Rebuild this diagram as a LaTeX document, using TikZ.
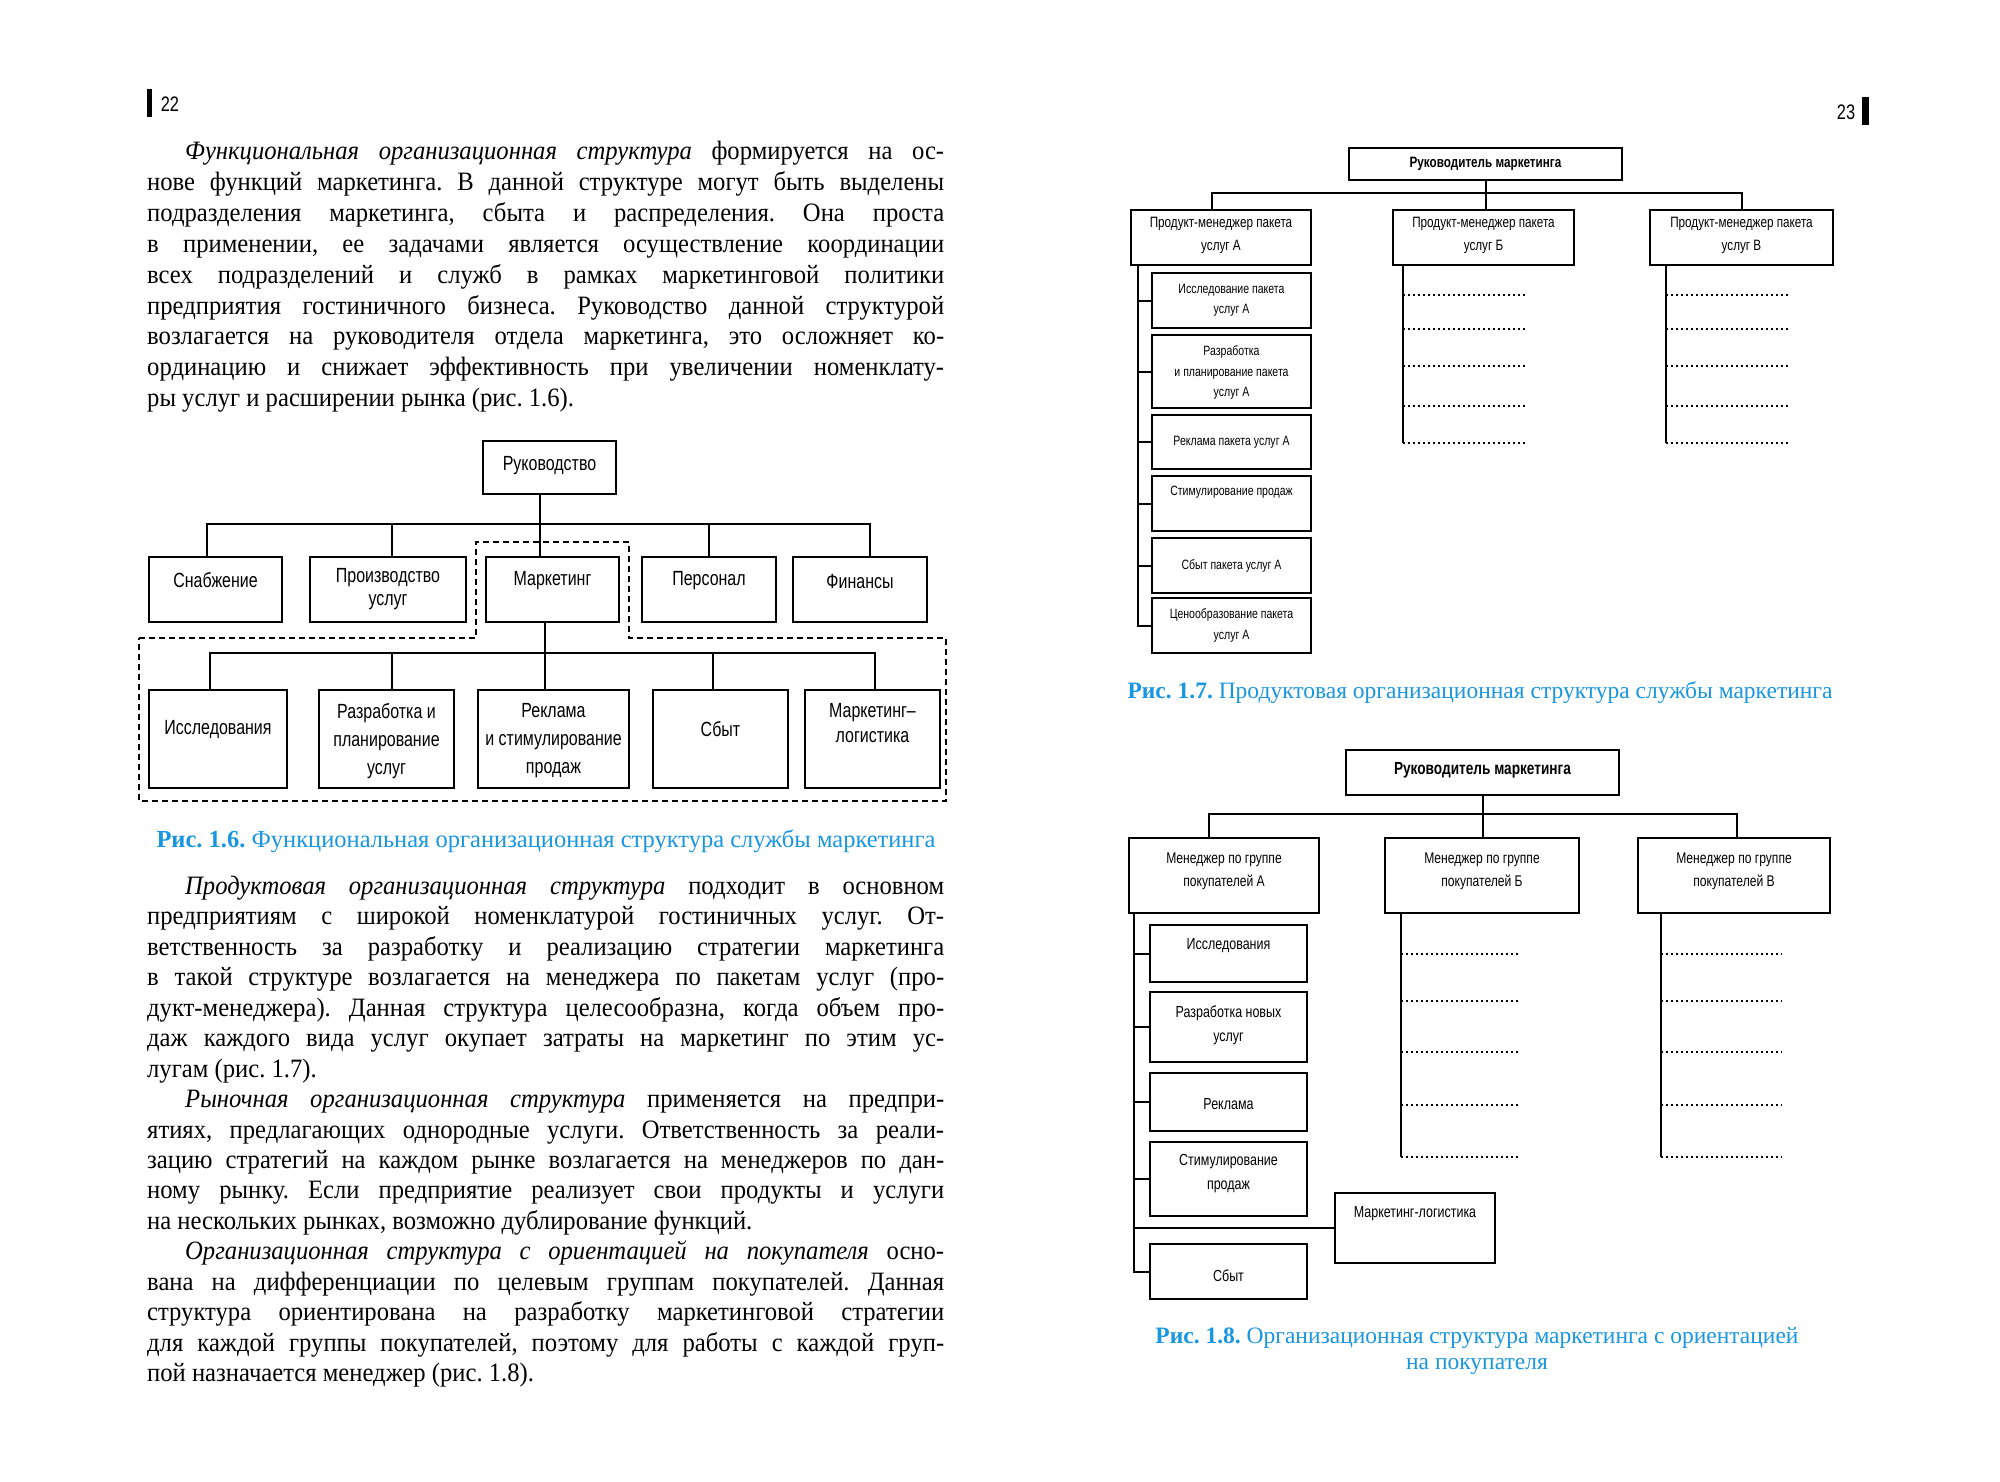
\documentclass[tikz,border=0pt]{standalone}
\usepackage{fontspec}
\setmainfont{Liberation Serif}[FakeStretch=0.93]
\newfontfamily\capfamily{Liberation Serif}
\newfontfamily\dfont{Liberation Sans}[FakeStretch=0.78]
\usetikzlibrary{calc}
\definecolor{capblue}{RGB}{25,150,225}
\frenchspacing
\newcommand\bodyfont{\fontsize{26.5}{30}\selectfont}
\newcommand\justln[3]{\node[txtline] (#1) at (147,#2) {\makebox[797pt][s]{#3}};}
\newcommand\lastln[3]{\node[txtline] (#1) at (147,#2) {#3};}
\newcommand\orgbox[9]{%
  \node[#2, minimum width={#6-#4}, minimum height={#7-#5}] (#1) at ({(#4+#6)/2},{(#5+#7)/2}) {};
  \node[#3] (#1t) at ($(#1.center)+(0,#8)$) {#9};}
\tikzset{
  txtline/.style={anchor=base west, inner sep=0, font=\bodyfont},
  b16/.style={draw, line width=2.6pt, inner sep=0},
  b17/.style={draw, line width=2pt, inner sep=0},
  b18/.style={draw, line width=2pt, inner sep=0},
  l16/.style={align=center, inner sep=0, font=\dfont\fontsize{20.5}{23}\selectfont},
  l17t/.style={align=center, inner sep=0, font=\dfont\bfseries\fontsize{15}{20}\selectfont},
  l17m/.style={align=center, inner sep=0, font=\dfont\fontsize{15}{23}\selectfont},
  l17s/.style={align=center, inner sep=0, font=\dfont\fontsize{13.5}{20.5}\selectfont},
  l18t/.style={align=center, inner sep=0, font=\dfont\bfseries\fontsize{17.5}{22}\selectfont},
  l18m/.style={align=center, inner sep=0, font=\dfont\fontsize{15.5}{23}\selectfont},
  l18s/.style={align=center, inner sep=0, font=\dfont\fontsize{16}{24}\selectfont},
  c16/.style={line width=2.4pt},
  c17/.style={line width=2pt},
  dash16/.style={line width=2pt, dash pattern=on 6pt off 4pt},
  dotl/.style={line width=2pt, dash pattern=on 2pt off 3pt},
  capt/.style={inner sep=0, align=center, text=capblue, font=\capfamily\fontsize{23.5}{26}\selectfont},
  pgnum/.style={inner sep=0, font=\dfont\fontsize{21}{24}\selectfont},
}
\begin{document}
\begin{tikzpicture}[x=1pt,y=-1pt]
\fill[white] (0,0) rectangle (2000,1482);
\useasboundingbox (0,0) rectangle (2000,1482);

% page numbers
\node[pgnum] (pn22) at (170,104) {22};
\fill (147,89) rectangle (152,117);
\node[pgnum] (pn23) at (1846,112) {23};
\fill (1862,97) rectangle (1869,125);

% paragraph 1
\justln{a1}{160}{\hspace*{38pt}\textit{Функциональная организационная структура} формируется на ос-}
\justln{a2}{190.8}{нове функций маркетинга. В данной структуре могут быть выделены}
\justln{a3}{221.6}{подразделения маркетинга, сбыта и распределения. Она проста}
\justln{a4}{252.4}{в применении, ее задачами является осуществление координации}
\justln{a5}{283.2}{всех подразделений и служб в рамках маркетинговой политики}
\justln{a6}{314}{предприятия гостиничного бизнеса. Руководство данной структурой}
\justln{a7}{344.8}{возлагается на руководителя отдела маркетинга, это осложняет ко-}
\justln{a8}{375.6}{ординацию и снижает эффективность при увеличении номенклату-}
\lastln{a9}{406.4}{ры услуг и расширении рынка (рис. 1.6).}

% paragraphs 2-4
\justln{b1}{894.4}{\hspace*{38pt}\textit{Продуктовая организационная структура} подходит в основном}
\justln{b2}{924.9}{предприятиям с широкой номенклатурой гостиничных услуг. От-}
\justln{b3}{955.3}{ветственность за разработку и реализацию стратегии маркетинга}
\justln{b4}{985.8}{в такой структуре возлагается на менеджера по пакетам услуг (про-}
\justln{b5}{1016.2}{дукт-менеджера). Данная структура целесообразна, когда объем про-}
\justln{b6}{1046.7}{даж каждого вида услуг окупает затраты на маркетинг по этим ус-}
\lastln{b7}{1077.1}{лугам (рис. 1.7).}
\justln{c1}{1107.6}{\hspace*{38pt}\textit{Рыночная организационная структура} применяется на предпри-}
\justln{c2}{1138.0}{ятиях, предлагающих однородные услуги. Ответственность за реали-}
\justln{c3}{1168.5}{зацию стратегий на каждом рынке возлагается на менеджеров по дан-}
\justln{c4}{1198.9}{ному рынку. Если предприятие реализует свои продукты и услуги}
\lastln{c5}{1229.4}{на нескольких рынках, возможно дублирование функций.}
\justln{d1}{1259.8}{\hspace*{38pt}\textit{Организационная структура с ориентацией на покупателя} осно-}
\justln{d2}{1290.3}{вана на дифференциации по целевым группам покупателей. Данная}
\justln{d3}{1320.7}{структура ориентирована на разработку маркетинговой стратегии}
\justln{d4}{1351.2}{для каждой группы покупателей, поэтому для работы с каждой груп-}
\lastln{d5}{1381.6}{пой назначается менеджер (рис. 1.8).}

% ---------------- Fig 1.6
\orgbox{root}{b16}{l16}{483}{441}{616}{494}{-2}{Руководство}
\orgbox{snab}{b16}{l16}{149}{557}{282}{622}{-9}{Снабжение}
\orgbox{prod}{b16}{l16}{310}{557}{466}{622}{0}{Производство\\услуг}
\orgbox{mark}{b16}{l16}{486}{557}{619}{622}{-9}{Маркетинг}
\orgbox{pers}{b16}{l16}{642}{557}{776}{622}{-9}{Персонал}
\orgbox{fin}{b16}{l16}{793}{557}{927}{622}{-8}{Финансы}
\orgbox{issl}{b16}{l16}{149}{690}{287}{788}{-10}{Исследования}
\orgbox{razr}{b16}{l16}{319}{690}{454}{788}{2}{Разработка и\\[5pt]планирование\\[5pt]услуг}
\orgbox{rekl}{b16}{l16}{478}{690}{629}{788}{2}{Реклама\\[5pt]и стимулирование\\[5pt]продаж}
\orgbox{sbyt}{b16}{l16}{653}{690}{788}{788}{-10}{Сбыт}
\orgbox{mlog}{b16}{l16}{805}{690}{940}{788}{-16}{Маркетинг–\\[2.5pt]логистика}

\coordinate (bus16) at (540,524);
\coordinate (snabTop) at ([xshift=-8.5pt]snab.north);
\coordinate (finTop) at ([xshift=10pt]fin.north);
\coordinate (prodTop) at ([xshift=4pt]prod.north);
\draw[c16] ([xshift=-9.5pt]root.south) -- ([xshift=-12.5pt]mark.north);
\draw[c16] (snabTop) |- (finTop |- bus16) -- (finTop);
\draw[c16] (prodTop) -- (prodTop |- bus16);
\draw[c16] (pers.north) -- (pers.north |- bus16);

\coordinate (bus2) at (545,653);
\coordinate (isslTop) at ([xshift=-8pt]issl.north);
\coordinate (mlogTop) at ([xshift=2.5pt]mlog.north);
\coordinate (razrTop) at ([xshift=5.5pt]razr.north);
\coordinate (sbytTop) at ([xshift=-7.5pt]sbyt.north);
\draw[c16] ([xshift=-7.5pt]mark.south) -- ([xshift=-8.5pt]rekl.north);
\draw[c16] (isslTop) |- (mlogTop |- bus2) -- (mlogTop);
\draw[c16] (razrTop) -- (razrTop |- bus2);
\draw[c16] (sbytTop) -- (sbytTop |- bus2);

\draw[dash16] (139,638) -- (476,638) -- (476,542) -- (629,542) -- (629,638) -- (946,638) -- (946,801) -- (139,801) -- cycle;

\node[capt, font=\capfamily\fontsize{24.5}{26}\selectfont] (cap16) at (546,841) {\textbf{Рис. 1.6.} Функциональная организационная структура службы маркетинга};

% ---------------- Fig 1.7
\orgbox{top7}{b17}{l17t}{1349}{148}{1622}{180}{0}{Руководитель маркетинга}
\orgbox{mgrA7}{b17}{l17m}{1131}{210}{1311}{265}{-2}{Продукт-менеджер пакета\\услуг А}
\orgbox{mgrB7}{b17}{l17m}{1393}{210}{1574}{265}{-2}{Продукт-менеджер пакета\\услуг Б}
\orgbox{mgrC7}{b17}{l17m}{1650}{210}{1833}{265}{-2}{Продукт-менеджер пакета\\услуг В}
\orgbox{s1}{b17}{l17s}{1152}{273}{1311}{328}{0}{Исследование пакета\\услуг А}
\orgbox{s2}{b17}{l17s}{1152}{335}{1311}{408}{1}{Разработка\\и планирование пакета\\услуг А}
\orgbox{s3}{b17}{l17s}{1152}{415}{1311}{469}{0}{Реклама пакета услуг А}
\orgbox{s4}{b17}{l17s}{1152}{476}{1311}{531}{-11}{Стимулирование продаж}
\orgbox{s5}{b17}{l17s}{1152}{538}{1311}{593}{0}{Сбыт пакета услуг А}
\orgbox{s6}{b17}{l17s}{1152}{598}{1311}{653}{0}{Ценообразование пакета\\услуг А}

\coordinate (bus17) at (1486,193);
\coordinate (aTop7) at ([xshift=-9pt]mgrA7.north);
\coordinate (cTop7) at (mgrC7.north);
\draw[c17] (top7.south) -- (top7.south |- mgrB7.north);
\draw[c17] (aTop7) |- (cTop7 |- bus17) -- (cTop7);
\coordinate (spA7) at ([xshift=8pt]mgrA7.south west);
\draw[c17] (spA7) |- (s6.west);
\foreach \s in {s1,s2,s3,s4,s5} \draw[c17] (spA7 |- \s.west) -- (\s.west);

\coordinate (spB7) at ([xshift=11pt]mgrB7.south west);
\coordinate (spC7) at ([xshift=17pt]mgrC7.south west);
\foreach \i/\yy in {1/295,2/329,3/366,4/406,5/443} {
  \coordinate (bE\i) at (1526,\yy);
  \coordinate (cE\i) at (1790,\yy);
}
\draw[c17] (spB7) -- (spB7 |- bE5);
\draw[c17] (spC7) -- (spC7 |- cE5);
\foreach \i in {1,...,5} {
  \draw[dotl] (spB7 |- bE\i) -- (bE\i);
  \draw[dotl] (spC7 |- cE\i) -- (cE\i);
}

\node[capt] (cap17) at (1480,693) {\textbf{Рис. 1.7.} Продуктовая организационная структура службы маркетинга};

% ---------------- Fig 1.8
\orgbox{top8}{b18}{l18t}{1346}{750}{1619}{795}{-2}{Руководитель маркетинга}
\orgbox{mgrA8}{b18}{l18m}{1129}{838}{1319}{913}{-4}{Менеджер по группе\\покупателей А}
\orgbox{mgrB8}{b18}{l18m}{1385}{838}{1579}{913}{-4}{Менеджер по группе\\покупателей Б}
\orgbox{mgrC8}{b18}{l18m}{1638}{838}{1830}{913}{-4}{Менеджер по группе\\покупателей В}
\orgbox{u1}{b18}{l18s}{1150}{925}{1307}{982}{-8}{Исследования}
\orgbox{u2}{b18}{l18s}{1150}{992}{1307}{1062}{-2}{Разработка новых\\услуг}
\orgbox{u3}{b18}{l18s}{1150}{1073}{1307}{1131}{2}{Реклама}
\orgbox{u4}{b18}{l18s}{1150}{1142}{1307}{1216}{-5}{Стимулирование\\продаж}
\orgbox{ml8}{b18}{l18s}{1335}{1193}{1495}{1263}{-14}{Маркетинг-логистика}
\orgbox{u5}{b18}{l18s}{1150}{1244}{1307}{1299}{4}{Сбыт}

\coordinate (bus18) at (1482,814);
\coordinate (aTop8) at ([xshift=-15pt]mgrA8.north);
\coordinate (cTop8) at ([xshift=3pt]mgrC8.north);
\draw[c17] (top8.south) -- (top8.south |- mgrB8.north);
\draw[c17] (aTop8) |- (cTop8 |- bus18) -- (cTop8);
\coordinate (spA8) at ([xshift=6pt]mgrA8.south west);
\draw[c17] (spA8) |- (u5.west);
\foreach \s in {u1,u2,u3,u4,ml8} \draw[c17] (spA8 |- \s.west) -- (\s.west);

\coordinate (spB8) at ([xshift=17pt]mgrB8.south west);
\coordinate (spC8) at ([xshift=24pt]mgrC8.south west);
\foreach \i/\yy in {1/954,2/1001,3/1052,4/1105,5/1157} {
  \coordinate (bF\i) at (1520,\yy);
  \coordinate (cF\i) at (1782,\yy);
}
\draw[c17] (spB8) -- (spB8 |- bF5);
\draw[c17] (spC8) -- (spC8 |- cF5);
\foreach \i in {1,...,5} {
  \draw[dotl] (spB8 |- bF\i) -- (bF\i);
  \draw[dotl] (spC8 |- cF\i) -- (cF\i);
}

\node[capt] (cap18) at (1477,1351) {\textbf{Рис. 1.8.} Организационная структура маркетинга с ориентацией\\на покупателя};
\end{tikzpicture}
\end{document}
